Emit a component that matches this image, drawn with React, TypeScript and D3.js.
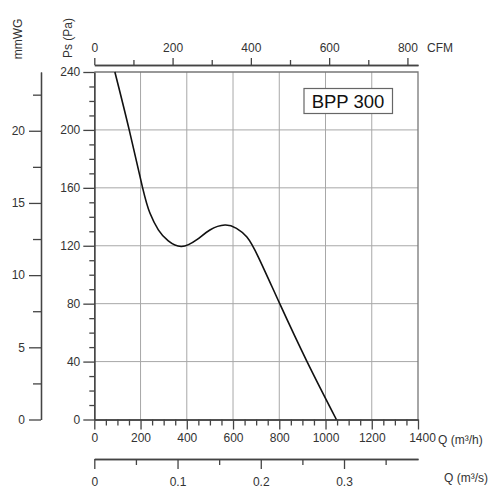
import * as d3 from 'd3';
import { useEffect, useRef } from 'react';

// fan curve: flow (m³/h) vs static pressure (Pa)
const flowM3h = [89, 151, 209, 241, 277, 320, 377, 442, 500, 565, 615, 660, 710, 802, 920, 1047];
const pressurePa = [240, 200, 160, 142.4, 131, 123.3, 119.5, 124, 130.9, 134.3, 132, 126, 112, 80, 40, 0];

const qTicks = [0, 200, 400, 600, 800, 1000, 1200, 1400];
const qMinor = d3.range(50, 1400, 50).filter(v => v % 200 !== 0);
const paTicks = [0, 40, 80, 120, 160, 200, 240];
const paMinor = d3.range(10, 240, 10).filter(v => v % 40 !== 0);
const cfmTicks = [0, 200, 400, 600, 800];
const cfmMinor = [100, 300, 500, 700];
const m3sTicks = [0, 0.1, 0.2, 0.3];
const m3sMinor = [0.05, 0.15, 0.25, 0.35];
const mmTicks = [0, 5, 10, 15, 20];
const mmMinor = [2.5, 7.5, 12.5, 17.5, 22.5];

const modelName = 'BPP 300';

export default function App() {
  const svgRef = useRef<SVGSVGElement>(null);

  useEffect(() => {
    if (!svgRef.current) return;
    const svg = d3.select(svgRef.current);
    svg.selectAll('*').remove();

    const left = 94.3, right = 418, top = 72, bottom = 419.5;
    const axisColor = '#444';
    const gridColor = '#a8a8a8';
    const font = '"Liberation Sans", Arial, sans-serif';

    const x = d3.scaleLinear().domain([0, 1400]).range([left, right]);
    const y = d3.scaleLinear().domain([0, 240]).range([bottom, top]);
    const cfm = d3.scaleLinear().domain([0, 827]).range([left, right]);
    const m3s = d3.scaleLinear().domain([0, 1400 / 3600]).range([left, right]);
    const mm = d3.scaleLinear().domain([0, 24.07]).range([bottom, top]);

    // grid
    const grid = svg.append('g').attr('stroke', gridColor).attr('stroke-width', 1);
    qTicks.slice(1, -1).forEach(v => {
      grid.append('line').attr('x1', x(v)).attr('x2', x(v)).attr('y1', top).attr('y2', bottom);
    });
    paTicks.slice(1, -1).forEach(v => {
      grid.append('line').attr('x1', left).attr('x2', right).attr('y1', y(v)).attr('y2', y(v));
    });

    // frame top + right
    svg.append('path')
      .attr('d', `M${left},${top}H${right}V${bottom}`)
      .attr('fill', 'none')
      .attr('stroke', '#777')
      .attr('stroke-width', 1.3);

    const styleAxis = (g: d3.Selection<SVGGElement, unknown, null, undefined>) => {
      g.selectAll('path').attr('stroke', axisColor).attr('stroke-width', 1.3);
      g.selectAll('line').attr('stroke', axisColor).attr('stroke-width', 1.3);
      g.selectAll('text').style('font-family', font).style('font-size', '12px').attr('fill', '#333');
    };

    // Q (m³/h) bottom
    const gQ = svg.append('g').attr('transform', `translate(0,${bottom})`);
    gQ.call(d3.axisBottom(x).tickValues(qMinor).tickSize(6).tickSizeOuter(0).tickFormat(() => ''));
    gQ.append('g').call(d3.axisBottom(x).tickValues(qTicks).tickSize(10).tickSizeOuter(0).tickPadding(4).tickFormat(d3.format('d')));
    styleAxis(gQ);
    // last label sits a little right of its tick
    gQ.selectAll<SVGTextElement, number>('text').filter(d => d === 1400).attr('dx', 4);
    svg.append('text').attr('x', 438).attr('y', 443.5)
      .style('font-family', font).style('font-size', '12px').attr('fill', '#333')
      .text('Q (m³/h)');

    // Q (m³/s) second bottom axis
    const gS = svg.append('g').attr('transform', 'translate(0,459)');
    gS.call(d3.axisBottom(m3s).tickValues(m3sMinor).tickSize(6).tickSizeOuter(0).tickFormat(() => ''));
    gS.append('g').call(d3.axisBottom(m3s).tickValues(m3sTicks).tickSize(10).tickSizeOuter(0).tickPadding(8).tickFormat(d => d === 0 ? '0' : d3.format('.1f')(d as number)));
    styleAxis(gS);
    svg.append('text').attr('x', 488).attr('y', 482).attr('text-anchor', 'end')
      .style('font-family', font).style('font-size', '12px').attr('fill', '#333')
      .text('Q (m³/s)');

    // CFM top axis
    const gC = svg.append('g').attr('transform', 'translate(0,65)');
    gC.call(d3.axisTop(cfm).tickValues(cfmMinor).tickSize(5).tickSizeOuter(0).tickFormat(() => ''));
    gC.append('g').call(d3.axisTop(cfm).tickValues(cfmTicks).tickSize(7).tickSizeOuter(0).tickPadding(6).tickFormat(d3.format('d')));
    styleAxis(gC);
    svg.append('text').attr('x', 427).attr('y', 52)
      .style('font-family', font).style('font-size', '12px').attr('fill', '#333')
      .text('CFM');

    // Ps (Pa) left axis
    const gP = svg.append('g').attr('transform', `translate(${left},0)`);
    gP.call(d3.axisLeft(y).tickValues(paMinor).tickSize(5).tickSizeOuter(0).tickFormat(() => ''));
    gP.append('g').call(d3.axisLeft(y).tickValues(paTicks).tickSize(11).tickSizeOuter(0).tickPadding(3).tickFormat(d3.format('d')));
    styleAxis(gP);

    // mmWG outer left axis
    const gM = svg.append('g').attr('transform', 'translate(41,0)');
    gM.call(d3.axisLeft(mm).tickValues(mmMinor).tickSize(8).tickSizeOuter(0).tickFormat(() => ''));
    gM.append('g').call(d3.axisLeft(mm).tickValues(mmTicks).tickSize(12).tickSizeOuter(0).tickPadding(4).tickFormat(d3.format('d')));
    styleAxis(gM);

    // rotated axis titles
    svg.append('text').attr('transform', 'translate(22,39) rotate(-90)').attr('text-anchor', 'middle')
      .style('font-family', font).style('font-size', '12px').attr('fill', '#333').text('mmWG');
    svg.append('text').attr('transform', 'translate(72,38) rotate(-90)').attr('text-anchor', 'middle')
      .style('font-family', font).style('font-size', '12px').attr('fill', '#333').text('Ps (Pa)');

    // curve
    const pts = flowM3h.map((q, i) => [q, pressurePa[i]] as [number, number]);
    const line = d3.line<[number, number]>()
      .x(d => x(d[0]))
      .y(d => y(d[1]))
      .curve(d3.curveNatural);
    svg.append('path')
      .attr('d', line(pts))
      .attr('fill', 'none')
      .attr('stroke', '#111')
      .attr('stroke-width', 1.6);

    // model label box
    svg.append('rect')
      .attr('x', 304).attr('y', 88.5).attr('width', 88.5).attr('height', 25)
      .attr('fill', '#fff').attr('stroke', '#666').attr('stroke-width', 1.2);
    svg.append('text').attr('x', 348).attr('y', 107.5).attr('text-anchor', 'middle')
      .style('font-family', font).style('font-size', '18.5px').attr('fill', '#111')
      .text(modelName);
  }, []);

  return (
    <svg
      ref={svgRef}
      width={500}
      height={500}
      style={{ position: 'absolute', left: 0, top: 0, background: '#fff' }}
    />
  );
}
